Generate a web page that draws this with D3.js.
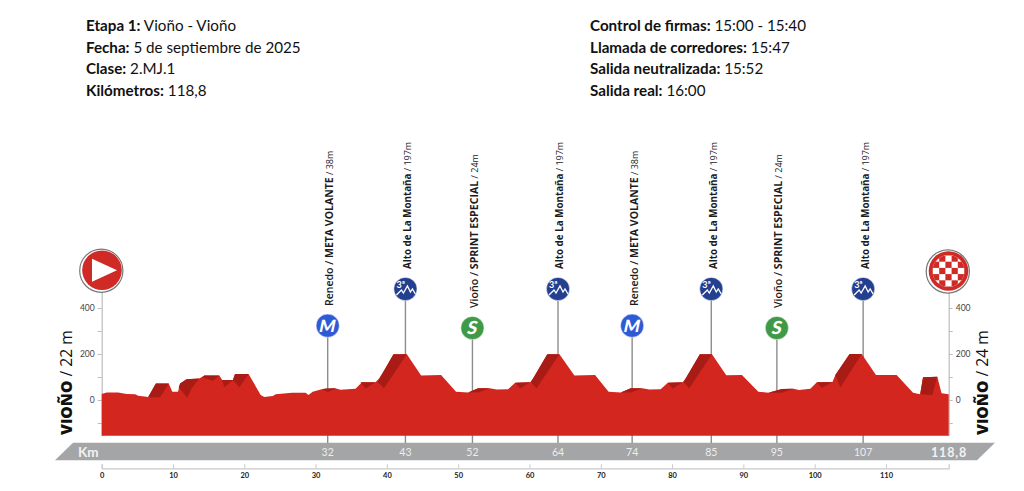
<!DOCTYPE html>
<html><head><meta charset="utf-8">
<script src="https://cdn.jsdelivr.net/npm/d3@7"></script>
<style>html,body{margin:0;padding:0;background:#fff}svg{display:block}</style>
</head><body>
<svg id="c" width="1024" height="491"></svg>
<script>
const profileKm=[0,0.7,2.3,3.5,4.7,5.1,6.3,6.5,7.6,9.4,9.9,10.7,11,11.9,13.7,14.4,16.5,16.9,18.4,18.7,20.6,22.3,22.8,24,24.4,26.7,28.6,29,29.6,31.1,33,33.5,35.6,36.5,38.4,38.9,41,42.8,44.8,47.6,49.7,51.4,52.8,54.4,55.4,57,58,60.1,60.5,62.5,64.2,66.3,69.2,70.1,71.1,72.8,74.2,75.8,76.8,78.4,79.4,81.5,81.9,83.9,85.6,87.6,89.8,92.1,93.5,95.4,97,97.8,99.4,100.3,102.5,102.9,104.9,106.6,108.6,111.5,113.8,114.8,115.2,117.2,117.8,118.8];
const profileElev=[26,33,33,26,25,19,14,12,72,72,36,36,72,90,94,106,106,87,87,113,113,22,13,17,25,32,32,22,36,49,49,45,49,77,77,94,199,199,107,109,36,33,51,51,46,47,75,77,94,199,199,107,109,74,36,33,51,51,46,47,75,77,94,199,199,108,109,36,32,48,49,43,49,77,78,109,200,200,109,109,32,25,99,101,29,25];
const shadeKm=[[6.5,7.6,9.4,8.2],[10.8,11,11.9,13.7,12.6,12],[14.1,14.4,16.5,15.6],[16.9,18.4,17.2],[18.4,18.7,20.6,19.3],[31,31.4,33,31.7],[36.3,38.4,37],[38.7,40.9,42.8,39.6],[51.4,52.8,54.4,52.8],[58,60.1,58.7],[60.2,62.5,64.2,61],[72.8,74.2,75.8,74.2],[79.4,81.5,80.1],[81.6,83.9,85.6,82.4],[93.5,95.4,97,95.4],[100.3,102.5,101],[102.9,104.9,106.6,103.6],[114.8,115.2,117.2,116.5]];
const shadeElev=[[12,72,72,12],[55,72,90,94,50,10],[99,106,106,84],[87,87,55],[87,113,113,55],[45,50,52,35],[77,77,50],[77,199,199,51],[33,51,51,33],[75,77,50],[77,199,199,51],[33,51,51,33],[75,77,50],[77,199,199,51],[32,48,49,32],[77,78,52],[109,200,200,54],[25,99,101,22]];
const yTicks=[400,300,200,100,0,-100];
const yLabels=[400,200,0];
const kmTicks=[0,10,20,30,40,50,60,70,80,90,100,110];
const kmMax=118.8;
const markerKm=[31.7,42.6,52,64,74.4,85.5,94.7,106.8];
const markerKmLabel=["32","43","52","64","74","85","95","107"];
const markerType=["M","C","S","C","M","C","S","C"];
const markerText=[["Renedo / ","META VOLANTE"," / 38m"],["Alto de La Montaña"," / 197m"],["Vioño / ","SPRINT ESPECIAL"," / 24m"],["Alto de La Montaña"," / 197m"],["Renedo / ","META VOLANTE"," / 38m"],["Alto de La Montaña"," / 197m"],["Vioño / ","SPRINT ESPECIAL"," / 24m"],["Alto de La Montaña"," / 197m"]];
const headerLeft=[["Etapa 1:"," Vioño - Vioño"],["Fecha:"," 5 de septiembre de 2025"],["Clase:"," 2.MJ.1"],["Kilómetros:"," 118,8"]];
const headerRight=[["Control de firmas:"," 15:00 - 15:40"],["Llamada de corredores:"," 15:47"],["Salida neutralizada:"," 15:52"],["Salida real:"," 16:00"]];

const svg=d3.select("#c");
const x=d3.scaleLinear().domain([0,kmMax]).range([101.7,948.7]);
const y=d3.scaleLinear().domain([0,400]).range([400,308]);
const floorElev=-155;
const RED="#d2261f",DARK="#a81c15",BAND="#a3a5a7",AX="#bdbdbd";
const txt="Lato, 'Open Sans', sans-serif";

// header
[[86,headerLeft],[590,headerRight]].forEach(([hx,rows])=>{
  rows.forEach((r,i)=>{
    const t=svg.append("text").attr("x",hx).attr("y",31+i*21.6).attr("font-family",txt).attr("font-size",15.2).attr("fill","#111");
    t.append("tspan").attr("font-weight",700).text(r[0]);
    t.append("tspan").attr("xml:space","preserve").text(r[1]);
  });
});

// km band
svg.append("polygon").attr("points","73,442.8 995,442.8 977,460.3 55,460.3").attr("fill",BAND);
svg.append("text").attr("x",78).attr("y",456.5).attr("font-family",txt).attr("font-weight",700).attr("font-size",13.5).attr("fill","#f2f2f2").text("Km");
svg.append("text").attr("x",949).attr("y",456.5).attr("text-anchor","middle").attr("font-family",txt).attr("font-weight",700).attr("font-size",12.5).attr("letter-spacing",0.8).attr("fill","#f2f2f2").text("118,8");

// y axes
function styleAxis(g){
  g.selectAll(".domain").attr("stroke",AX).attr("stroke-width",1.2);
  g.selectAll(".tick line").attr("stroke",AX);
  g.selectAll(".tick text").attr("fill","#444").attr("font-family",txt).attr("font-size",8.5);
}
const yFmt=d=>yLabels.includes(d)?d:"";
const yAxisScale=y.copy().domain([floorElev,475]).range([y(floorElev),y(475)]);
svg.append("g").attr("transform",`translate(${x(0)},0)`).call(d3.axisLeft(yAxisScale).tickValues(yTicks).tickFormat(yFmt).tickSize(4).tickSizeOuter(0).tickPadding(3)).call(styleAxis);
svg.append("g").attr("transform",`translate(${x(kmMax)},0)`).call(d3.axisRight(yAxisScale).tickValues(yTicks).tickFormat(yFmt).tickSize(4).tickSizeOuter(0).tickPadding(3)).call(styleAxis);

// stems
const markerColor={M:"#2f5ad6",C:"#233f90",S:"#3f9a47"};
const markerCy={M:325.7,C:289,S:328};
const textBottom={M:306,C:269,S:308};
const textSize={M:10.5,C:9.8,S:10.6};
svg.append("g").selectAll("line").data(markerKm).join("line")
  .attr("x1",d=>x(d)).attr("x2",d=>x(d))
  .attr("y1",(d,i)=>markerCy[markerType[i]]).attr("y2",443)
  .attr("stroke","#8d8d8d").attr("stroke-width",1.4);

// profile
const pts=profileKm.map((k,i)=>[k,profileElev[i]]);
svg.append("path").datum(pts)
  .attr("d",d3.area().x(d=>x(d[0])).y0(y(floorElev)).y1(d=>y(d[1])))
  .attr("fill",RED);
const ln=d3.line().x(d=>x(d[0])).y(d=>y(d[1])).curve(d3.curveLinearClosed);
svg.append("g").selectAll("path").data(shadeKm.map((ks,i)=>ks.map((k,j)=>[k,shadeElev[i][j]]))).join("path")
  .attr("d",ln).attr("fill",DARK);

// km labels in band
svg.append("g").selectAll("text").data(markerKm).join("text")
  .attr("x",d=>x(d)).attr("y",456).attr("text-anchor","middle")
  .attr("font-family",txt).attr("font-size",10.5).attr("fill","#ededed")
  .text((d,i)=>markerKmLabel[i]);

// bottom axis
const xAxisG=svg.append("g").attr("transform","translate(0,468.3)")
  .call(d3.axisBottom(x).tickValues(kmTicks).tickFormat(d3.format("d")).tickSize(-4).tickSizeOuter(-4).tickPadding(4));
xAxisG.selectAll(".domain").attr("stroke","#c9c9c9").attr("stroke-width",1.2);
xAxisG.selectAll(".tick line").attr("stroke","#c9c9c9");
xAxisG.selectAll(".tick text").attr("fill","#222").attr("font-family",txt).attr("font-weight",700).attr("font-size",7.5);

// markers
const mg=svg.append("g").selectAll("g").data(markerKm).join("g")
  .attr("transform",(d,i)=>`translate(${x(d)},${markerCy[markerType[i]]})`);
mg.append("circle").attr("r",11.6).attr("fill",(d,i)=>markerColor[markerType[i]]).attr("stroke","#fff").attr("stroke-width",0.5);
mg.each(function(d,i){
  const g=d3.select(this),t=markerType[i];
  if(t==="C"){
    g.append("text").attr("x",-9).attr("y",-1).attr("font-family",txt).attr("font-weight",700).attr("font-size",9).attr("fill","#fff").text("3ª");
    g.append("path").attr("d","M-9,6 L-4,1 L-2,4 L2,-3 L5,3 L7,0 L10,5").attr("fill","none").attr("stroke","#fff").attr("stroke-width",1.3);
  } else {
    g.append("text").attr("text-anchor","middle").attr("y",6).attr("transform","skewX(-12)").attr("font-family",txt).attr("font-weight",900).attr("font-size",t==="M"?17:18).attr("fill","#fff").text(t);
  }
});

// rotated marker labels
svg.append("g").selectAll("text").data(markerKm).join("text")
  .attr("transform",(d,i)=>`translate(${x(d)+5.5},${textBottom[markerType[i]]}) rotate(-90)`)
  .attr("font-family","'Open Sans', sans-serif").attr("font-size",(d,i)=>textSize[markerType[i]]).attr("fill","#1c1c1c")
  .each(function(d,i){
    const t=d3.select(this),parts=markerText[i];
    if(parts.length===3){
      t.append("tspan").attr("font-weight",600).text(parts[0]);
      t.append("tspan").attr("font-weight",700).text(parts[1]);
      t.append("tspan").attr("font-weight",400).attr("font-size",9).text(parts[2]);
    } else {
      t.append("tspan").attr("font-weight",700).text(parts[0]);
      t.append("tspan").attr("font-weight",400).attr("font-size",9).text(parts[1]);
    }
  });

// start / finish names
[[72,"22 m"],[988,"24 m"]].forEach(([px,lab])=>{
  const t=svg.append("text").attr("transform",`translate(${px},435) rotate(-90)`)
    .attr("font-family","'Open Sans', sans-serif").attr("font-size",15.7).attr("fill","#111");
  t.append("tspan").attr("font-weight",800).text("VIOÑO");
  t.append("tspan").attr("font-weight",400).text(" / "+lab);
});

// start icon
const st=svg.append("g").attr("transform","translate(102,270.2)");
st.append("circle").attr("cx",-0.7).attr("cy",0.5).attr("r",21.6).attr("fill","#fff").attr("stroke","#777").attr("stroke-width",1.2);
st.append("circle").attr("r",19.8).attr("fill","#cf2a25");
st.append("path").attr("d","M-10,-11.5 L15,0 L-10,11.5 Z").attr("fill","#fff");

// finish icon
const fi=svg.append("g").attr("transform","translate(948.5,271)");
fi.append("circle").attr("cx",-0.7).attr("cy",0.5).attr("r",21.6).attr("fill","#fff").attr("stroke","#777").attr("stroke-width",1.2);
fi.append("circle").attr("r",19.8).attr("fill","#cf2a25");
fi.append("circle").attr("r",16).attr("fill","#fff");
svg.append("defs").append("clipPath").attr("id","ck").append("circle").attr("r",16);
const sq=6.2,cg=fi.append("g").attr("clip-path","url(#ck)");
d3.range(-3,4).forEach(r=>d3.range(-3,4).forEach(c=>{
  if(Math.abs(r+c)%2===1) cg.append("rect").attr("x",(c-0.5)*sq).attr("y",(r-0.5)*sq).attr("width",sq).attr("height",sq).attr("fill","#cf2a25");
}));
</script>
</body></html>
